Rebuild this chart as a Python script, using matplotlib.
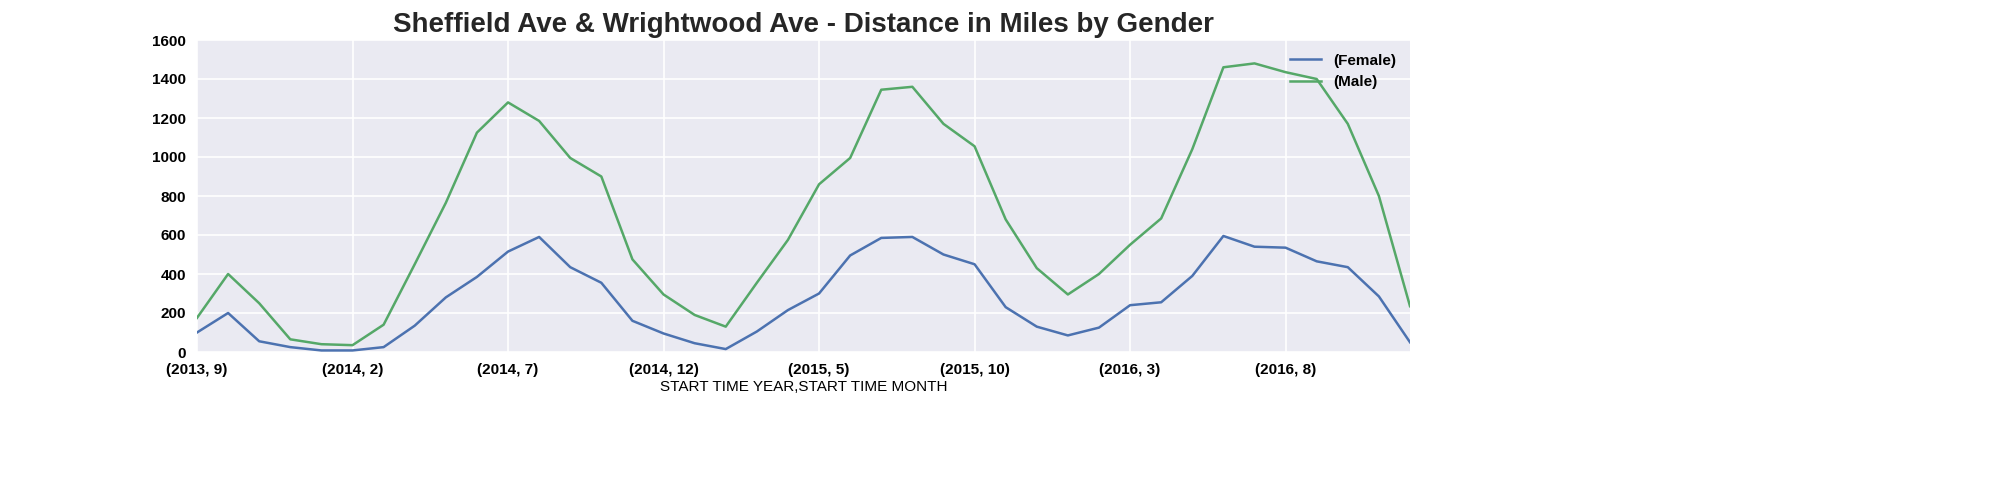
import matplotlib.pyplot as plt
import numpy as np

years = [2013]*4 + [2014]*12 + [2015]*12 + [2016]*12
months = list(range(9, 13)) + list(range(1, 13))*3
female = [100, 200, 55, 25, 8, 8, 25, 135, 280, 385, 515, 590, 435, 355, 160, 95, 45, 15, 105, 215,
          300, 495, 585, 590, 500, 450, 230, 130, 85, 125, 240, 255, 390, 595, 540, 535, 465, 435, 285, 50]
male = [175, 400, 250, 65, 40, 35, 140, 450, 765, 1125, 1280, 1185, 995, 900, 475, 295, 190, 130, 355, 575,
        860, 995, 1345, 1360, 1170, 1055, 680, 430, 295, 400, 550, 685, 1040, 1460, 1480, 1435, 1400, 1170, 800, 235]
labels = [f'({y}, {m})' for y, m in zip(years, months)]
x = np.arange(len(labels))

plt.rcParams['font.family'] = ['Arial', 'Liberation Sans', 'DejaVu Sans']
fig = plt.figure(figsize=(20, 5), dpi=100)
ax = fig.add_axes([197/2000, 1-352/500, (1410-197)/2000, (352-40)/500])
ax.set_facecolor('#eaeaf2')
ax.grid(True, color='white', linewidth=1.2)
ax.set_axisbelow(True)
for s in ax.spines.values():
    s.set_visible(False)

ax.plot(x, female, color='#4c72b0', linewidth=1.8, label='(Female)')
ax.plot(x, male, color='#55a868', linewidth=1.8, label='(Male)')

ax.set_xlim(0, len(x)-1)
ax.set_ylim(0, 1600)
ax.set_xticks(x[::5])
ax.set_xticklabels(labels[::5])
ax.set_yticks(range(0, 1601, 200))
ax.tick_params(length=0, pad=8)
for t in ax.get_xticklabels() + ax.get_yticklabels():
    t.set_fontweight('bold')
    t.set_fontsize(11)
ax.set_xlabel('START TIME YEAR,START TIME MONTH', fontsize=11, labelpad=2)
ax.set_title('Sheffield Ave & Wrightwood Ave - Distance in Miles by Gender',
             fontsize=20, fontweight='bold', color='#262626', pad=6)
leg = ax.legend(loc='upper right', frameon=False, prop={'weight': 'bold', 'size': 11})
fig.savefig('out.png')
